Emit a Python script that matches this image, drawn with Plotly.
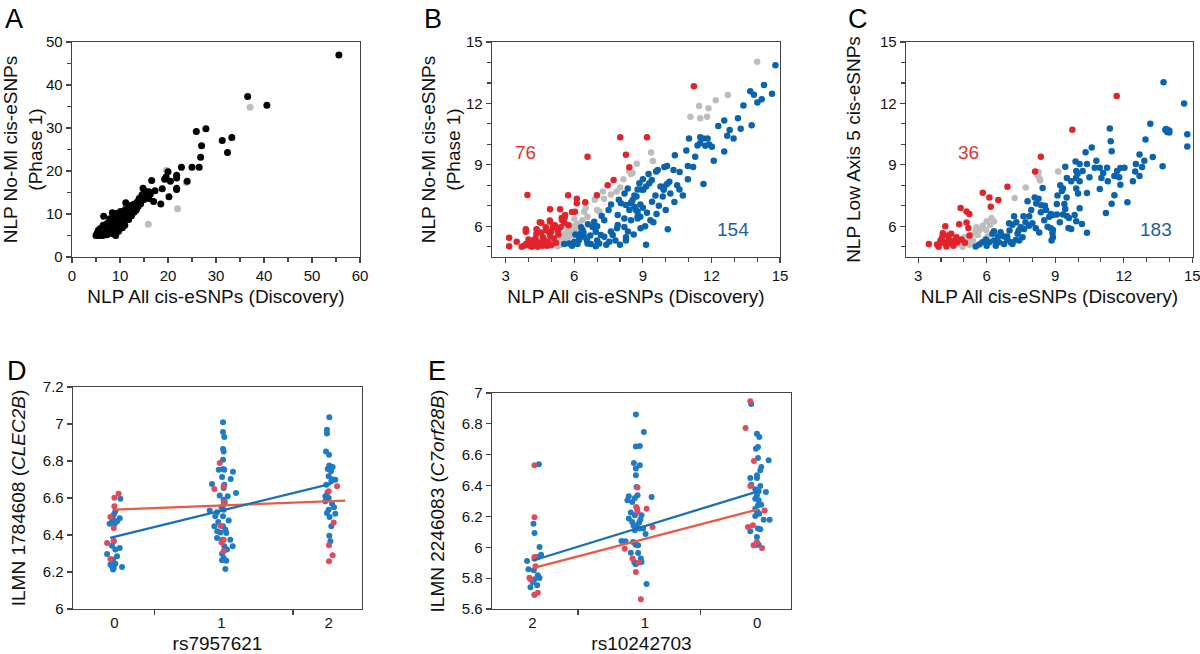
import plotly.graph_objects as go

# ---------------- Panel A ----------------
A_black = [
    (5.0,5.0),(5.3,5.6),(5.5,6.2),(5.8,5.1),(6.0,5.4),(6.2,6.0),(6.4,5.0),(6.5,7.4),(6.6,9.5),(6.8,5.6),
    (7.0,6.3),(7.1,7.0),(7.3,5.2),(7.5,6.7),(7.6,8.0),(7.8,5.8),(8.0,7.3),(8.1,6.2),(8.3,8.6),(8.4,10.3),
    (8.5,5.4),(8.7,7.8),(8.9,6.6),(9.0,9.2),(9.1,5.0),(9.3,8.3),(9.4,10.2),(9.5,7.1),(9.7,6.0),(9.8,8.9),
    (10.0,7.6),(10.2,9.8),(10.4,8.2),(10.5,6.8),(10.7,10.4),(10.9,9.0),(11.0,7.4),(11.2,12.6),(11.4,10.0),
    (11.6,11.2),(11.8,8.7),(12.0,10.8),(12.2,12.0),(12.4,9.6),(12.6,11.6),(12.9,10.4),(13.1,12.3),(13.4,11.0),
    (13.6,12.8),(13.8,11.8),(14.0,13.6),(14.3,12.4),(14.6,14.5),(14.8,16.0),(15.0,13.4),(15.3,14.8),(15.6,14.0),
    (16.0,15.2),(16.3,14.6),(16.6,17.8),(17.0,12.9),(17.3,15.4),(18.5,12.3),(18.8,15.9),(19.3,18.1),(19.6,18.6),
    (20.0,19.8),(20.2,14.0),(20.5,17.6),(21.8,19.0),(21.8,18.4),(21.8,16.0),(21.8,15.7),(22.8,20.9),(24.0,17.6),
    (25.0,20.9),(25.9,29.2),(26.5,20.9),(26.8,23.2),(27.0,25.9),(27.9,29.8),(31.3,27.1),(32.4,24.3),(33.3,27.8),
    (36.6,37.3),(40.6,35.3),(55.6,47.0),
    (5.2,5.4),(5.6,5.0),(5.9,6.6),(6.1,5.7),(6.3,6.8),(6.7,6.1),(6.9,5.3),(7.2,7.7),(7.4,6.0),(7.7,7.1),
    (7.9,8.9),(8.2,5.9),(8.6,8.0),(8.8,9.6),(9.2,7.4),(9.6,9.0),(9.9,7.0),(10.1,10.6),(10.3,8.8),(10.6,9.6),
    (10.8,7.9),(11.1,11.0),(11.5,9.3),(11.9,10.2),(12.1,11.5),(12.5,10.6),(12.8,12.2),(13.2,10.8),(13.5,12.0),
    (14.1,12.9),(14.4,13.9),(15.2,15.3),(16.0,13.6),
]
A_gray = [(37.1,34.8),(19.7,20.2),(22.0,11.2),(15.9,7.6),(23.8,17.3),(11.2,11.6),(10.2,9.2),(7.5,5.5),(6.2,5.2)]

# ---------------- Panel B ----------------
B_red = [
    (11.23,12.84),(9.18,10.35),(8.01,10.35),(6.58,9.4),(8.26,9.49),(8.41,8.88),(3.95,7.53),(7.72,8.26),(7.46,8.0),
    (6.99,7.51),(5.73,7.51),(6.11,7.35),(6.11,7.12),(6.48,7.17),(4.94,6.83),(5.38,6.83),(6.03,6.71),(5.56,6.17),
    (5.47,6.3),(4.56,6.17),(4.94,6.22),(3.88,5.86),(3.88,5.73),(3.15,5.44),(3.15,5.03),(3.48,5.24),(3.80,5.05),
    (4.05,5.05),(4.2,5.3),(4.34,5.63),(4.49,5.22),(4.63,5.46),(4.78,5.79),(4.93,5.63),(5.07,5.95),(4.49,6.2),
    (4.93,6.28),(5.29,5.79),(5.51,6.28),(5.58,6.44),(4.15,5.0),(4.6,5.05),(4.85,5.22),(5.1,5.4),(5.3,5.6),
    (4.3,5.4),(4.1,5.15),(4.4,5.0),(4.7,5.3),(4.95,5.5),(5.2,5.2),(3.9,5.15),(4.55,5.7),(5.4,5.95),(4.0,5.35),
    (5.0,5.1),(5.15,6.05),(5.75,6.05),(5.9,6.7),(4.35,5.85),(4.75,5.95),(5.6,6.55),(4.8,5.05),(5.0,5.75),
    (5.45,6.4),(3.7,5.0),(4.25,5.15),
]
B_blue = [
    (14.8,13.86),(14.65,12.47),(13.7,12.59),(13.86,12.42),(14.01,12.05),(12.56,11.17),(13.16,11.28),(13.28,10.76),
    (13.76,10.94),(12.69,10.42),(12.97,10.29),(12.56,9.65),(11.02,10.29),(11.51,10.35),(11.65,10.29),(11.83,10.29),
    (11.39,9.94),(11.73,9.93),(12.02,9.88),(11.29,9.4),(10.4,9.47),(10.97,8.95),(10.97,8.3),(11.65,8.07),
    (10.61,8.65),(10.34,8.75),(10.06,8.95),(9.94,8.9),(9.65,8.75),(9.58,8.68),(9.39,8.26),(9.28,8.1),(10.16,8.18),
    (10.06,8.07),(9.94,7.94),(9.77,7.94),(9.91,7.78),(9.14,7.94),(8.92,7.8),(9.02,7.78),(8.63,7.5),(8.72,7.45),
    (9.55,7.5),(9.87,7.45),(10.75,7.5),(10.38,7.19),(8.48,7.15),(8.55,7.28),(8.89,7.07),(8.7,6.79),(8.77,6.46),
    (8.89,6.46),(9.18,6.66),(9.33,6.3),(9.46,6.2),(10.09,5.85),(9.14,5.1),
    (8.34,7.85),(8.77,7.8),(8.04,7.12),(8.26,7.04),(8.48,7.12),(8.63,6.96),(8.41,6.79),(8.77,6.71),(7.9,6.55),
    (8.19,6.38),(8.48,6.3),(8.77,6.38),(7.61,7.07),(7.31,6.3),(6.87,6.22),(6.8,5.97),(6.94,5.73),(7.16,5.57),
    (7.31,5.49),(7.53,5.24),(7.68,5.57),(7.87,5.9),(7.9,6.06),(8.19,5.97),(8.26,5.3),(8.26,5.46),(6.36,5.82),
    (6.29,5.65),(6.43,5.49),(6.21,5.33),(6.0,5.24),(5.78,5.16),(5.56,5.13),(6.58,5.16),(6.72,5.13),(6.94,5.03),
    (7.09,5.16),(6.14,5.13),
    (6.3,5.95),(6.4,5.7),(6.55,5.3),(6.7,5.55),(7.0,5.3),(7.4,5.1),(7.8,5.3),(8.6,5.6),(8.9,5.9),(9.1,6.0),
    (9.6,6.6),(9.7,7.0),(10.2,7.6),(10.5,8.0),(11.2,8.9),(12.1,9.2),(11.9,10.0),(11.5,10.05),(10.9,9.7),
    (9.25,8.55),(9.0,8.3),(8.85,8.1),(8.2,7.6),(7.95,7.3),(7.5,6.8),(7.2,6.5),(6.6,6.1),(6.2,5.5),(5.9,5.05),
    (6.05,5.6),(8.0,5.1),(7.6,5.75),(8.35,5.75),(7.0,6.0),(9.4,7.2),(9.0,6.9),(10.0,6.8),(10.6,7.8),
    (12.3,10.9),(13.4,11.9),(14.3,12.9),(14.2,12.2),(12.8,10.7),
]
B_gray = [
    (14.0,14.04),(12.72,12.41),(12.19,12.16),(11.46,11.88),(11.87,11.77),(11.08,11.35),(11.51,11.28),(11.81,11.35),
    (9.36,9.6),(9.44,9.19),(8.73,9.06),(8.55,8.62),(8.4,8.7),(8.48,8.55),(8.01,7.89),(7.85,7.7),(7.6,7.55),
    (7.25,7.7),(7.0,6.8),(7.1,6.72),(6.43,6.71),(6.58,6.46),(6.36,6.3),(6.21,6.13),(6.07,6.05),(5.92,5.9),
    (5.78,5.73),(5.63,5.65),(5.49,5.5),(5.34,5.35),(5.2,5.2),(5.05,5.1),(4.98,5.02),(5.27,5.02),(5.5,5.25),
    (5.7,5.4),(5.9,5.55),(6.1,5.75),(5.8,6.05),(6.0,6.35),(6.5,6.9),(6.9,7.3),(7.3,7.35),(5.4,5.1),(5.65,5.95),
    (8.15,8.3),
]

# ---------------- Panel C ----------------
C_red = [
    (8.37,9.4),(8.12,8.68),(6.91,7.93),(5.83,7.64),(6.12,7.41),(6.51,7.28),(6.18,6.96),(4.86,6.89),(5.12,6.72),
    (5.24,6.6),(4.8,6.1),(5.12,6.18),(5.2,5.92),(4.19,6.0),(4.08,5.66),(4.45,5.63),(4.68,5.46),(3.98,5.3),
    (3.47,5.14),(3.83,5.11),(4.27,5.22),(4.24,5.01),(4.49,5.14),(4.71,5.22),(11.69,12.36),(9.75,10.72),
    (4.05,5.45),(4.35,5.35),(4.6,5.3),(4.9,5.35),(5.25,5.55),(3.9,5.0),(4.1,5.2),(4.55,5.05),(5.05,5.2),(4.3,5.55),
]
C_blue = [
    (13.74,13.04),(14.64,12.0),(13.16,11.01),(13.82,10.72),(13.99,10.68),(13.99,10.58),(13.86,10.75),(14.78,10.49),
    (14.78,9.9),(12.95,10.24),(11.39,10.78),(11.43,10.15),(11.47,9.67),(12.69,9.5),(13.27,9.38),(10.6,9.85),
    (10.33,9.61),(9.89,9.17),(10.07,9.04),(9.44,8.91),(10.39,9.04),(10.73,8.86),(10.95,8.86),(11.27,8.86),
    (11.71,8.7),(11.85,8.85),(12.03,8.86),(12.53,9.04),(12.5,8.68),(12.69,8.45),(13.7,8.93),(11.59,8.46),
    (11.8,8.39),(11.02,8.36),(10.95,7.82),(11.85,8.03),(11.59,7.51),(11.47,7.1),(12.16,7.17),(11.22,6.65),
    (9.92,8.7),(9.98,8.57),(9.51,8.36),(9.91,8.36),(10.07,8.2),(9.22,8.0),(9.34,7.84),(9.29,7.72),(9.92,7.84),
    (10.39,7.63),(9.07,7.09),(9.4,7.09),(9.44,6.85),(10.07,6.88),(8.9,6.55),(9.07,6.58),(9.34,6.58),(9.51,6.5),
    (9.6,6.4),(9.85,6.55),(9.58,5.92),(9.7,5.87),(9.92,6.24),(10.17,6.11),(10.39,5.69),(8.9,5.82),(8.9,5.46),
    (9.1,7.5),
    (8.45,7.87),(8.1,7.4),(8.27,7.35),(8.17,7.11),(8.39,7.03),(7.79,7.22),(8.81,6.6),(8.74,6.47),(8.37,6.68),
    (7.61,6.49),(7.86,6.49),(7.2,6.49),(6.98,6.15),(7.13,6.08),(7.49,5.95),(7.64,5.87),(7.86,6.03),(8.0,6.15),
    (8.15,5.9),(8.3,5.7),(7.35,5.63),(7.42,5.3),(7.57,5.46),(8.67,5.98),(8.81,5.9),(8.88,5.66),(8.52,6.3),
    (8.84,5.3),(6.32,5.76),(6.25,5.63),(6.61,5.71),(6.76,5.5),(6.91,5.33),(5.96,5.35),(5.81,5.22),(5.67,5.11),
    (5.52,5.01),(6.11,5.22),(6.32,5.3),(6.54,5.22),(6.76,5.14),(7.05,5.22),(7.27,5.33),(7.13,5.14),
    (6.0,5.05),(6.4,5.05),(6.9,5.5),(7.4,5.8),(7.7,6.2),(7.0,5.8),(7.95,6.8),(8.55,7.0),(9.2,6.2),(9.5,7.4),
    (10.0,7.6),(10.5,8.4),(10.8,9.2),(11.3,8.2),(12.9,9.2),(12.8,8.9),(12.4,8.2),(13.9,10.6),(11.1,8.6),
    (10.2,8.7),(9.7,8.2),(8.6,6.8),(7.3,6.2),(6.5,5.5),
]
C_gray = [
    (7.71,7.9),(7.23,7.38),(8.3,8.36),(8.22,8.5),(8.34,8.24),(8.27,8.65),(6.21,6.41),(6.32,6.23),(6.15,6.08),
    (5.83,6.03),(5.69,5.82),(5.5,5.7),(5.32,5.57),(5.18,5.33),(5.03,5.46),(4.81,5.14),(5.4,5.3),(5.61,5.57),
    (5.98,5.82),(6.05,5.5),(9.13,8.68),(5.25,5.1),(4.95,5.0),(5.55,5.95),(6.0,6.25),
]

# ---------------- Panel D ----------------
D_blue = [
    (0.056,6.596),(0.009,6.528),(-0.006,6.51),(-0.012,6.483),(-0.022,6.469),(0.003,6.461),(-0.044,6.461),
    (0.05,6.49),(0.025,6.474),(-0.006,6.366),(-0.022,6.342),(0.009,6.321),(0.025,6.285),(-0.068,6.297),
    (0.05,6.33),(-0.012,6.267),(0.009,6.245),(-0.022,6.231),(-0.006,6.222),(0.072,6.227),(-0.037,6.24),
    (-0.012,6.213),
    (1.014,7.009),(1.014,6.957),(1.026,6.93),(1.014,6.865),(1.02,6.852),(1.014,6.807),(1.014,6.757),
    (0.974,6.753),(1.026,6.753),(1.107,6.742),(1.005,6.714),(1.086,6.703),(0.911,6.676),(1.026,6.672),
    (1.02,6.654),(1.135,6.627),(0.983,6.614),(1.058,6.609),(1.02,6.591),(1.026,6.569),(0.89,6.533),
    (0.958,6.523),(1.02,6.537),(0.942,6.501),(1.014,6.501),(1.067,6.479),(0.933,6.447),(1.014,6.447),
    (1.036,6.429),(0.989,6.414),(1.045,6.411),(0.958,6.384),(1.082,6.375),(1.008,6.375),(1.104,6.339),
    (1.026,6.339),(1.051,6.321),(1.005,6.299),(1.02,6.276),(1.005,6.263),(1.045,6.261),(1.036,6.216),
    (1.0,6.55),(0.97,6.47),(1.03,6.58),(0.96,6.42),
    (2.006,7.036),(1.984,6.969),(1.984,6.948),(1.975,6.852),(2.003,6.834),(2.006,6.775),(2.037,6.768),
    (1.991,6.757),(2.022,6.744),(2.0,6.717),(2.062,6.699),(2.025,6.69),(1.978,6.672),(1.969,6.609),
    (2.0,6.6),(2.031,6.569),(1.969,6.582),(2.062,6.515),(2.0,6.537),(1.984,6.519),(2.009,6.497),
    (2.025,6.447),(2.006,6.396),(2.016,6.366),(2.05,6.55),(1.99,6.63),(2.04,6.7),
]
D_red = [
    (0.0,6.602),(0.04,6.623),(0.0,6.555),(-0.037,6.497),(-0.006,6.438),(-0.068,6.357),(-0.006,6.369),(-0.037,6.27),
    (0.983,6.789),(0.933,6.649),(1.02,6.663),(1.02,6.375),(1.02,6.312),(1.0,6.36),(1.02,6.58),(0.99,6.45),
    (2.078,6.663),(2.0,6.636),(2.047,6.468),(2.003,6.344),(2.037,6.29),(2.003,6.258),
]
D_fit_blue_x, D_fit_blue_y = [-0.04, 2.02], [6.384, 6.677]
D_fit_red_x, D_fit_red_y = [0.0, 2.155], [6.537, 6.586]
D_cats = ["0", "1", "2"]

# ---------------- Panel E ----------------
E_blue = [
    (0.057,6.538),(0.009,6.153),(0.018,6.093),(0.063,6.002),(0.077,5.952),(0.048,5.937),(-0.048,5.911),
    (0.018,5.925),(-0.036,5.857),(0.012,5.851),(0.048,5.819),(0.063,5.801),(0.018,5.793),(0.003,5.775),
    (0.042,5.754),(-0.018,5.741),(0.018,5.693),
    (0.92,6.86),(0.991,6.747),(0.92,6.654),(0.955,6.657),(0.902,6.546),(0.955,6.531),(0.92,6.51),(0.92,6.467),
    (0.926,6.391),(1.06,6.326),(0.857,6.33),(0.845,6.305),(0.911,6.32),(0.935,6.337),(0.887,6.294),
    (0.875,6.225),(0.911,6.207),(0.97,6.207),(0.857,6.186),(0.887,6.164),(0.926,6.143),(0.955,6.121),
    (0.911,6.11),(0.985,6.121),(1.006,6.086),(0.827,6.039),(0.792,6.041),(0.896,6.035),(0.917,6.017),
    (0.94,6.013),(0.875,5.965),(0.94,5.963),(0.964,5.927),(0.97,5.905),(0.905,5.905),(0.917,5.89),
    (1.015,5.762),(0.95,6.16),(0.93,6.25),(0.9,6.14),(0.96,6.18),
    (1.946,6.929),(1.997,6.736),(2.018,6.715),(2.006,6.65),(1.988,6.639),(2.006,6.579),(2.036,6.521),
    (2.027,6.499),(2.101,6.564),(1.997,6.467),(1.997,6.449),(1.938,6.449),(1.946,6.406),(2.027,6.397),
    (1.982,6.376),(2.012,6.363),(2.077,6.359),(1.997,6.337),(1.982,6.315),(2.012,6.305),(2.036,6.276),
    (2.006,6.272),(1.982,6.25),(1.997,6.233),(2.018,6.218),(1.982,6.203),(2.057,6.179),(2.11,6.179),
    (1.938,6.104),(2.006,6.121),(2.027,6.117),(1.997,6.067),(2.012,6.017),(1.982,6.013),
]
E_red = [
    (0.018,6.531),(0.018,6.194),(0.018,5.937),(-0.027,5.803),(-0.018,5.793),(0.027,5.877),(0.048,5.706),(0.018,5.693),
    (0.935,6.387),(0.923,6.261),(1.015,6.25),(1.068,6.132),(0.821,5.991),(0.89,5.927),(0.946,5.901),(0.92,5.84),
    (0.964,5.663),(0.935,6.23),
    (1.938,6.946),(1.896,6.773),(1.97,6.559),(1.938,6.397),(2.065,6.238),(1.917,6.132),(1.961,6.143),
    (1.997,6.035),(1.967,6.013),(2.042,5.996),
]
E_fit_blue_x, E_fit_blue_y = [0.012, 2.006], [5.916, 6.363]
E_fit_red_x, E_fit_red_y = [0.012, 2.006], [5.866, 6.246]
E_cats = ["2", "1", "0"]

# ---------------- styling ----------------
FONT = "Liberation Sans, Arial, Helvetica, sans-serif"
AX = "#444444"
RED = "#e2232b"
BLUE = "#0a63ad"
GRAY = "#bdbdbd"
D_BLUE = "#1f7bc4"
D_RED = "#e04b5c"
L_BLUE = "#1a6fb5"
L_RED = "#ec5a45"

W, H = 1200, 654


def dom_x(a, b):
    return [a / W, b / W]


def dom_y(top, bot):
    return [1 - bot / H, 1 - top / H]


def xy(pts):
    return [p[0] for p in pts], [p[1] for p in pts]


fig = go.Figure()


def scatter(pts, color, size, xa, ya):
    x, y = xy(pts)
    fig.add_trace(go.Scatter(x=x, y=y, mode="markers", xaxis=xa, yaxis=ya,
                             marker=dict(color=color, size=size, line=dict(width=0)),
                             showlegend=False, hoverinfo="skip"))


def fitline(x, y, color, xa, ya):
    fig.add_trace(go.Scatter(x=x, y=y, mode="lines", xaxis=xa, yaxis=ya,
                             line=dict(color=color, width=2.3), showlegend=False, hoverinfo="skip"))


# A
scatter(A_gray, GRAY, 7, "x", "y")
scatter(A_black, "#000000", 7, "x", "y")
# B
scatter(B_gray, GRAY, 6.5, "x2", "y2")
scatter(B_blue, BLUE, 6.5, "x2", "y2")
scatter(B_red, RED, 6.5, "x2", "y2")
# C
scatter(C_gray, GRAY, 6.5, "x3", "y3")
scatter(C_blue, BLUE, 6.5, "x3", "y3")
scatter(C_red, RED, 6.5, "x3", "y3")
# D
scatter(D_blue, D_BLUE, 6, "x4", "y4")
scatter(D_red, D_RED, 6, "x4", "y4")
fitline(D_fit_red_x, D_fit_red_y, L_RED, "x4", "y4")
fitline(D_fit_blue_x, D_fit_blue_y, L_BLUE, "x4", "y4")
# E
scatter(E_blue, D_BLUE, 6, "x5", "y5")
scatter(E_red, D_RED, 6, "x5", "y5")
fitline(E_fit_red_x, E_fit_red_y, L_RED, "x5", "y5")
fitline(E_fit_blue_x, E_fit_blue_y, L_BLUE, "x5", "y5")

tickfont = dict(family=FONT, size=15, color="#111111")
titlefont = dict(family=FONT, size=19, color="#111111")


def axis(domain, rng, anchor, title, standoff, **kw):
    d = dict(domain=domain, range=rng, anchor=anchor, showline=True, mirror=True,
             linecolor=AX, linewidth=1.3, ticks="outside", ticklen=5, tickwidth=1.2,
             tickcolor=AX, showgrid=False, zeroline=False, tickfont=tickfont, automargin=False,
             ticklabeloverflow="allow",
             title=dict(text=title, font=titlefont, standoff=standoff), fixedrange=True)
    d.update(kw)
    return d


minor_AB = dict(ticks="outside", ticklen=3.5, tickcolor=AX, tickwidth=1.1, dtick=1, showgrid=False)
minor_A = dict(ticks="outside", ticklen=4, tickcolor=AX, tickwidth=1.1, dtick=5, showgrid=False)

xA, yA = dom_x(72, 360), dom_y(42, 257)
xB, yB = dom_x(492, 780), dom_y(42, 257)
xC, yC = dom_x(906, 1193), dom_y(42, 257)
xD, yD = dom_x(73, 362), dom_y(387, 609)
xE, yE = dom_x(492, 791), dom_y(393, 609)

fig.update_layout(
    width=W, height=H, margin=dict(l=0, r=0, t=0, b=0, autoexpand=False),
    paper_bgcolor="white", plot_bgcolor="white", showlegend=False,
    font=dict(family=FONT),
    xaxis=axis(xA, [0, 60], "y", "NLP All cis-eSNPs (Discovery)", 6, tick0=0, dtick=10, minor=minor_A),
    yaxis=axis(yA, [0, 50], "x", "NLP No-MI cis-eSNPs<br>(Phase 1)", 1, tick0=0, dtick=10, minor=minor_A),
    xaxis2=axis(xB, [2.4, 15], "y2", "NLP All cis-eSNPs (Discovery)", 6, tick0=0, dtick=3, minor=minor_AB),
    yaxis2=axis(yB, [4.5, 15], "x2", "NLP No-MI cis-eSNPs<br>(Phase 1)", 0, tick0=0, dtick=3, minor=minor_AB),
    xaxis3=axis(xC, [2.47, 15.03], "y3", "NLP All cis-eSNPs (Discovery)", 6, tick0=0, dtick=3, minor=minor_AB),
    yaxis3=axis(yC, [4.5, 15], "x3", "NLP Low Axis 5 cis-eSNPs", 14, tick0=0, dtick=3, minor=minor_AB),
    xaxis4=axis(xD, [-0.386, 2.311], "y4", "rs7957621", 6, tickmode="array", tickvals=[0, 1, 2],
                ticktext=D_cats, ticks="",
                minor=dict(tickmode="array", tickvals=[0.373, 1.667], ticks="outside", ticklen=5,
                           tickcolor=AX, tickwidth=1.2, showgrid=False)),
    yaxis4=axis(yD, [6, 7.2], "x4", "ILMN 1784608 (<i>CLEC2B</i>)", 12, tick0=6, dtick=0.2),
    xaxis5=axis(xE, [-0.36, 2.3], "y5", "rs10242703", 6, tickmode="array", tickvals=[0, 1, 2],
                ticktext=E_cats, ticks="",
                minor=dict(tickmode="array", tickvals=[0.405, 1.494], ticks="outside", ticklen=5,
                           tickcolor=AX, tickwidth=1.2, showgrid=False)),
    yaxis5=axis(yE, [5.6, 7.0], "x5", "ILMN 2246083 (<i>C7orf28B</i>)", 12, tick0=5.6, dtick=0.2),
)

ann = []
for letter, px, py in [("A", 3, 2), ("B", 422, 2), ("C", 846, 2), ("D", 5, 354), ("E", 426, 354)]:
    ann.append(dict(text=letter, x=px / W, y=1 - py / H, xref="paper", yref="paper",
                    xanchor="left", yanchor="top", showarrow=False,
                    font=dict(family=FONT, size=27, color="#000000")))
for text, xr, yr, x, y, col in [("76", "x2", "y2", 3.88, 9.58, "#e03530"),
                                ("154", "x2", "y2", 12.93, 5.82, "#1f5f98"),
                                ("36", "x3", "y3", 5.2, 9.58, "#e03530"),
                                ("183", "x3", "y3", 13.4, 5.82, "#1f5f98")]:
    ann.append(dict(text=text, x=x, y=y, xref=xr, yref=yr, showarrow=False,
                    font=dict(family=FONT, size=19, color=col)))
fig.update_layout(annotations=ann)

fig.write_html("out.html", config={"displayModeBar": False, "staticPlot": True},
               post_script="document.body.style.margin='0px';document.body.style.overflow='hidden';")
